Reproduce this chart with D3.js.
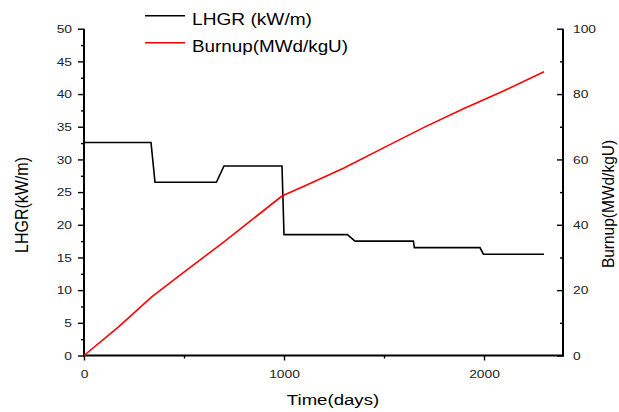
<!DOCTYPE html>
<html>
<head>
<meta charset="utf-8">
<script src="https://cdn.jsdelivr.net/npm/d3@7"></script>
<style>
  html, body { margin: 0; padding: 0; background: #fff; }
  svg { display: block; font-family: Arial, "Liberation Sans", sans-serif; }
</style>
</head>
<body>
<svg id="chart" width="619" height="412"></svg>
<script>
// ---- data ----
const lhgrDays  = [0, 335, 355, 662, 700, 990, 1000, 1317, 1355, 1647, 1652, 1980, 1997, 2300];
const lhgrVals  = [32.6, 32.6, 26.5, 26.5, 29, 29, 18.5, 18.5, 17.5, 17.5, 16.5, 16.5, 15.5, 15.5];
const burnDays  = [0, 170, 340, 500, 700, 990, 1100, 1300, 1500, 1700, 1900, 2100, 2300];
const burnVals  = [0, 8.6, 18, 25.5, 34.8, 48.8, 51.8, 57.4, 63.6, 69.8, 75.6, 81, 86.8];
const xTicks    = [0, 1000, 2000];
const leftTicks = [0, 5, 10, 15, 20, 25, 30, 35, 40, 45, 50];
const rightTicks = [0, 20, 40, 60, 80, 100];
const seriesNames = ["LHGR (kW/m)", "Burnup(MWd/kgU)"];
const seriesColors = ["#000000", "#ff0000"];

const svg = d3.select("#chart");
const X0 = 84, X1 = 563, Y0 = 355.5, Y1 = 28.7;
const x = d3.scaleLinear().domain([0, 2395]).range([X0, X1]);
const yL = d3.scaleLinear().domain([0, 50]).range([Y0, Y1]);
const yR = d3.scaleLinear().domain([0, 100]).range([Y0, Y1]);

const STRETCH = 1.2;
function stretchTexts(sel) {
  sel.each(function () {
    const len = this.getComputedTextLength();
    d3.select(this).attr("textLength", len * STRETCH).attr("lengthAdjust", "spacingAndGlyphs");
  });
}

// minor ticks
const minorX = d3.axisBottom(x).tickValues([500, 1500]).tickSize(3).tickFormat("");
const minorL = d3.axisLeft(yL).tickValues(d3.range(2.5, 50, 5)).tickSize(3).tickFormat("");
const minorR = d3.axisRight(yR).tickValues(d3.range(10, 100, 20)).tickSize(-3).tickFormat("");

svg.append("g").attr("transform", `translate(0,${Y0})`).call(minorX);
svg.append("g").attr("transform", `translate(${X0},0)`).call(minorL);
svg.append("g").attr("transform", `translate(${X1},0)`).call(minorR);

const gx = svg.append("g").attr("transform", `translate(0,${Y0})`)
  .call(d3.axisBottom(x).tickValues(xTicks).tickSize(5).tickPadding(9).tickFormat(d3.format("d")));
const gl = svg.append("g").attr("transform", `translate(${X0},0)`)
  .call(d3.axisLeft(yL).tickValues(leftTicks).tickSize(6).tickPadding(6).tickFormat(d3.format("d")));
const gr = svg.append("g").attr("transform", `translate(${X1},0)`)
  .call(d3.axisRight(yR).tickValues(rightTicks).tickSize(-6).tickPadding(10).tickFormat(d3.format("d")));

svg.selectAll(".domain").remove();
svg.selectAll(".tick line").attr("stroke", "#000").attr("stroke-width", 1.4);
svg.selectAll(".tick text").attr("font-size", 11.5).attr("fill", "#222")
  .attr("font-family", "Arial, 'Liberation Sans', sans-serif");
svg.selectAll(".tick text").call(stretchTexts);

// axis lines
const axisLines = [[X0, Y0 + 1, X0, Y1], [X0 - 1, Y0, X1 + 1, Y0], [X1, Y0 + 1, X1, Y1]];
svg.selectAll("line.axisline").data(axisLines).enter().append("line")
  .attr("class", "axisline")
  .attr("x1", d => d[0]).attr("y1", d => d[1]).attr("x2", d => d[2]).attr("y2", d => d[3])
  .attr("stroke", "#000").attr("stroke-width", 2);

// series
const lhgrData = lhgrDays.map((d, i) => [d, lhgrVals[i]]);
const burnData = burnDays.map((d, i) => [d, burnVals[i]]);

svg.append("path").datum(lhgrData)
  .attr("fill", "none").attr("stroke", seriesColors[0]).attr("stroke-width", 1.6)
  .attr("d", d3.line().x(d => x(d[0])).y(d => yL(d[1])));
svg.append("path").datum(burnData)
  .attr("fill", "none").attr("stroke", seriesColors[1]).attr("stroke-width", 1.6)
  .attr("d", d3.line().x(d => x(d[0])).y(d => yR(d[1])));

// legend
const legendY = [15.7, 42.7];
const legendLen = [120, 156];
seriesNames.forEach((name, i) => {
  svg.append("line").attr("x1", 145).attr("x2", 185).attr("y1", legendY[i]).attr("y2", legendY[i])
    .attr("stroke", seriesColors[i]).attr("stroke-width", 1.6);
  svg.append("text").attr("x", 192).attr("y", legendY[i] + 9.3)
    .attr("font-size", 16).attr("fill", "#000")
    .attr("textLength", legendLen[i]).attr("lengthAdjust", "spacingAndGlyphs")
    .text(name);
});

// axis titles
svg.append("text").attr("x", 333).attr("y", 405).attr("text-anchor", "middle")
  .attr("font-size", 15.5).attr("fill", "#000")
  .text("Time(days)").call(stretchTexts);

svg.append("text").attr("transform", `translate(28,205) scale(${STRETCH},1) rotate(-90)`)
  .attr("text-anchor", "middle").attr("font-size", 16).attr("fill", "#000")
  .text("LHGR(kW/m)");
svg.append("text").attr("transform", `translate(614,204) scale(1.05,1) rotate(-90)`)
  .attr("text-anchor", "middle").attr("font-size", 15.5).attr("fill", "#000")
  .text("Burnup(MWd/kgU)");
</script>
</body>
</html>
